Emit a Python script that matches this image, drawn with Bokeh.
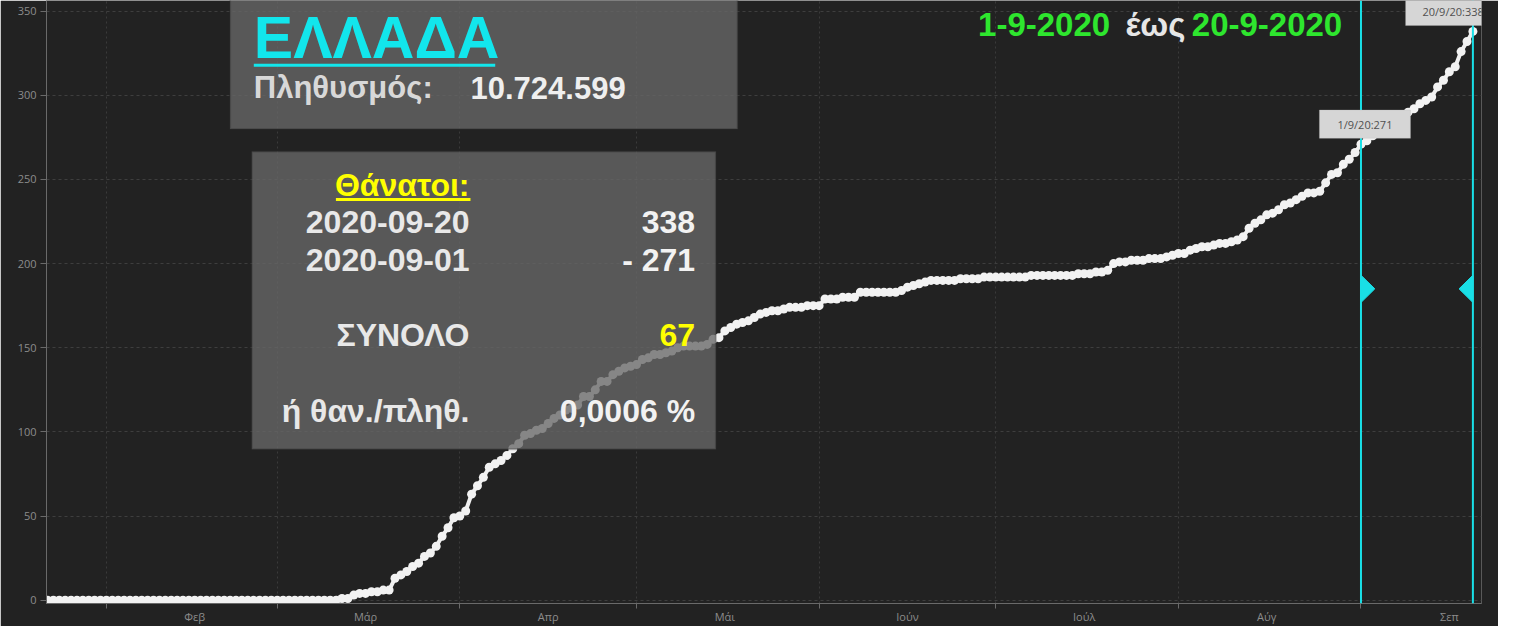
import pandas as pd
from bokeh.plotting import figure
from bokeh.models import FixedTicker, Span, BoxAnnotation, Label, Range1d
from bokeh.embed import file_html
from bokeh.resources import INLINE

# ---------------- data ----------------
start_date = "2020-01-22"
deaths_jan = [0, 0, 0, 0, 0, 0, 0, 0, 0, 0]  # 22-31 Jan
deaths_feb = [0, 0, 0, 0, 0, 0, 0, 0, 0, 0, 0, 0, 0, 0, 0, 0, 0, 0, 0, 0,
              0, 0, 0, 0, 0, 0, 0, 0, 0]
deaths_mar = [0, 0, 0, 0, 0, 0, 0, 0, 0, 0, 0, 1, 1, 3, 4, 4, 5, 5, 6, 6,
              13, 15, 17, 20, 22, 26, 28, 32, 38, 43, 49]
deaths_apr = [50, 53, 63, 68, 73, 79, 81, 83, 86, 90, 93, 98, 99, 101, 102,
              105, 108, 110, 113, 114, 116, 121, 121, 125, 130, 130, 134, 136, 138, 139]
deaths_may = [140, 143, 144, 146, 146, 147, 148, 150, 151, 151, 151, 151, 152, 155,
              156, 160, 162, 164, 165, 166, 168, 170, 171, 172, 172, 173, 174, 174,
              174, 175, 175]
deaths_jun = [175, 179, 179, 179, 180, 180, 180, 183, 183, 183, 183, 183, 183, 183,
              184, 186, 187, 188, 189, 190, 190, 190, 190, 190, 191, 191, 191, 191, 192, 192]
deaths_jul = [192, 192, 192, 192, 192, 192, 193, 193, 193, 193, 193, 193, 193, 193,
              194, 194, 194, 195, 195, 196, 200, 201, 201, 202, 202, 202, 203, 203,
              203, 204, 205]
deaths_aug = [206, 206, 208, 209, 210, 210, 211, 212, 212, 213, 214, 216, 221, 224,
              226, 229, 230, 232, 235, 236, 238, 240, 242, 242, 243, 248, 253, 254,
              259, 262, 266]
deaths_sep = [271, 273, 276, 279, 280, 282, 283, 286, 290, 292, 295, 297, 299, 305,
              309, 314, 317, 326, 332, 338]

month_starts = ["2020-02-01", "2020-03-01", "2020-04-01", "2020-05-01",
                "2020-06-01", "2020-07-01", "2020-08-01", "2020-09-01"]
month_mids = ["2020-02-16", "2020-03-16", "2020-04-16", "2020-05-16",
              "2020-06-16", "2020-07-16", "2020-08-16", "2020-09-16"]
month_labels = ["Φεβ", "Μάρ", "Απρ", "Μάι", "Ιούν", "Ιούλ", "Αύγ", "Σεπ"]
y_ticks = [0, 50, 100, 150, 200, 250, 300, 350]

country = "ΕΛΛΑΔΑ"
population = 10724599
period_start = "2020-09-01"
period_end = "2020-09-20"

# ---------------- derived ----------------
deaths = (deaths_jan + deaths_feb + deaths_mar + deaths_apr + deaths_may +
          deaths_jun + deaths_jul + deaths_aug + deaths_sep)
days = list(range(len(deaths)))
t0 = pd.Timestamp(start_date)


def day_of(d):
    return (pd.Timestamp(d) - t0).days


d_start = day_of(period_start)
d_end = day_of(period_end)
v_start = deaths[d_start]
v_end = deaths[d_end]
total = v_end - v_start
pct = total / population * 100.0
pct_txt = f"{pct:.4f}".replace(".", ",") + " %"
pop_txt = f"{population:,}".replace(",", ".")
ts_s = pd.Timestamp(period_start)
ts_e = pd.Timestamp(period_end)

# ---------------- layout helpers ----------------
W, H = 1498, 626
SX, SY = W / 1514.0, H / 642.0          # reference px -> canvas px
FL, FR, FT, FB = 46, 1481, 0, 604        # frame edges on the canvas
X_DAY0 = 47.5 * SX                       # canvas x of first day
KX = 5.953 * SX                          # px per day
Y_V0 = 616 * SY                          # canvas y of value 0
KY = (Y_V0 - 11 * SY) / 350.0            # px per death


def dx(rx):
    return (rx * SX - X_DAY0) / KX


def dy(ry):
    return (Y_V0 - ry * SY) / KY


BG = "#222222"
p = figure(width=W, height=H, output_backend="svg", toolbar_location=None,
           x_range=Range1d((FL - X_DAY0) / KX, (FR - X_DAY0) / KX),
           y_range=Range1d((Y_V0 - FB) / KY, (Y_V0 - FT) / KY),
           background_fill_color=BG, border_fill_color=BG,
           min_border_left=FL, min_border_right=W - FR, min_border_top=FT,
           min_border_bottom=H - FB, outline_line_color=None)

# axes
p.yaxis.ticker = FixedTicker(ticks=y_ticks)
mid_days = [day_of(d) for d in month_mids]
start_days = [day_of(d) for d in month_starts]
p.xaxis.ticker = FixedTicker(ticks=mid_days, minor_ticks=start_days)
p.xaxis.major_label_overrides = {int(d): l for d, l in zip(mid_days, month_labels)}
for ax in (p.xaxis, p.yaxis):
    ax.axis_line_color = "#6a6a6a"
    ax.major_label_text_color = "#8c8c8c"
    ax.major_label_text_font = "Open Sans"
    ax.major_label_text_font_size = "11px"
p.xaxis.major_tick_out = 0
p.xaxis.major_tick_in = 0
p.xaxis.minor_tick_out = 5
p.xaxis.minor_tick_in = 0
p.xaxis.minor_tick_line_color = "#6a6a6a"
p.xaxis.major_label_standoff = 0
p.yaxis.major_tick_out = 6
p.yaxis.major_tick_in = 0
p.yaxis.major_tick_line_color = "#6a6a6a"
p.yaxis.minor_tick_line_color = None
p.yaxis.major_label_standoff = 4

p.ygrid.grid_line_color = "#3e3e3e"
p.ygrid.grid_line_dash = "3 3"
p.xgrid.ticker = FixedTicker(ticks=start_days)
p.xgrid.grid_line_color = "#3a3a3a"
p.xgrid.grid_line_dash = "2 3"

# curve
p.line(days, deaths, line_color="#f0f0f0", line_width=4)
p.scatter(days, deaths, size=9, fill_color="#f2f2f2", line_color=None)

# period markers
CYAN = "#19dfe6"
tri_w = 14 * SX / KX
tri_h = 14 * SY / KY
tri_y = 185
p.patches([[d_start, d_start + tri_w, d_start], [d_end, d_end - tri_w, d_end]],
          [[tri_y - tri_h, tri_y, tri_y + tri_h], [tri_y - tri_h, tri_y, tri_y + tri_h]],
          fill_color=CYAN, line_color=CYAN)
for d in (d_start, d_end):
    p.add_layout(Span(location=d, dimension="height", line_color=CYAN, line_width=2))

# point labels (offsets in reference px)
for d, v, lo, hi, tx, txt_s in [
    (d_start, v_start, -42, 50, 4, f"{ts_s.day}/{ts_s.month}/{ts_s.year % 100}:{v_start}"),
    (d_end, v_end, -68, 30, -20, f"{ts_e.day}/{ts_e.month}/{ts_e.year % 100}:{v_end}"),
]:
    p.add_layout(BoxAnnotation(left=d + lo * SX / KX, right=d + hi * SX / KX,
                               bottom=v + 6 * SY / KY, top=v + 35 * SY / KY,
                               fill_color="#d6d6d6", fill_alpha=1.0,
                               line_color="#bdbdbd", line_width=1))
    p.add_layout(Label(x=d, y=v, x_offset=tx * SX, y_offset=20 * SY, text=txt_s,
                       text_align="center", text_baseline="middle",
                       text_font="Open Sans", text_font_size="11px",
                       text_color="#505050"))

# overlay boxes
BOXC = "#686868"
p.add_layout(BoxAnnotation(left=dx(232), right=dx(745), bottom=dy(132), top=dy(-30),
                           fill_color=BOXC, fill_alpha=0.78,
                           line_color="#303030", line_width=2))
p.add_layout(BoxAnnotation(left=dx(254), right=dx(723), bottom=dy(461), top=dy(155),
                           fill_color=BOXC, fill_alpha=0.78,
                           line_color="#303030", line_width=2))


def txt(rx, ry_base, s, color, size, align="left"):
    # Label anchor sits ~0.35 em above the drawn baseline
    cy = ry_base * SY - 0.35 * size
    p.add_layout(Label(x=dx(rx), y=(Y_V0 - cy) / KY, text=s, text_align=align,
                       text_baseline="alphabetic", text_font="Liberation Sans",
                       text_font_style="bold", text_font_size=f"{size}px",
                       text_color=color))


def uline(x1, x2, y1, y2, color):
    p.add_layout(BoxAnnotation(left=dx(x1), right=dx(x2), bottom=dy(y2), top=dy(y1),
                               fill_color=color, fill_alpha=1.0, line_color=None))


# country box
txt(256, 60, country, "#12e6ec", 59)
uline(256, 500, 65, 68, "#12e6ec")
txt(256, 101, "Πληθυσμός:", "#d8d8d8", 31)
txt(475, 101, pop_txt, "#efefef", 31)

# deaths box
YEL = "#ffff00"
WH = "#e8e8e8"
txt(474, 201, "Θάνατοι:", YEL, 32, "right")
uline(339, 475, 203, 206, YEL)
txt(474, 239, period_end, WH, 32, "right")
txt(474, 278, period_start, WH, 32, "right")
txt(474, 355, "ΣΥΝΟΛΟ", WH, 32, "right")
txt(474, 433, "ή θαν./πληθ.", WH, 32, "right")
txt(702, 239, f"{v_end}", "#f2f2f2", 32, "right")
txt(702, 278, f"- {v_start}", "#f2f2f2", 32, "right")
txt(702, 355, f"{total}", YEL, 32, "right")
txt(702, 433, pct_txt, "#f2f2f2", 32, "right")

# title (kept fully inside the canvas)
GRN = "#2ee62e"
txt(988, 36, f"{ts_s.day}-{ts_s.month}-{ts_s.year}", GRN, 33)
txt(1137, 36, "έως", "#e6e6e6", 33)
txt(1204, 36, f"{ts_e.day}-{ts_e.month}-{ts_e.year}", GRN, 33)

open("out.html", "w").write(file_html(p, INLINE))
